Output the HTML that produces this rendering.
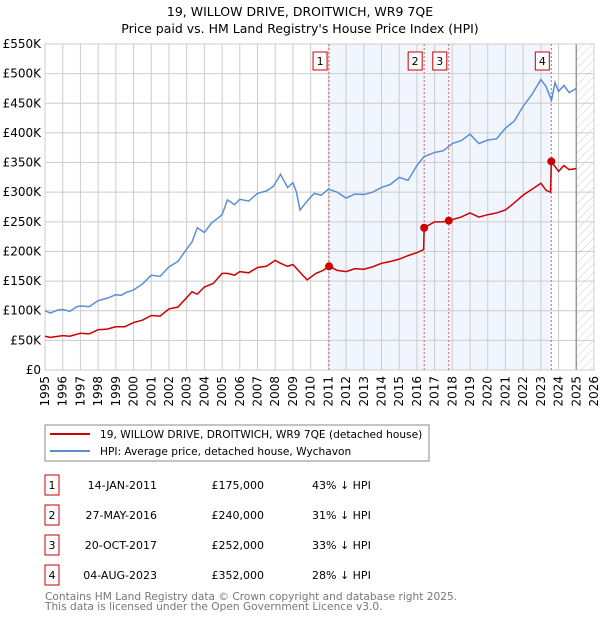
<!DOCTYPE html>
<html><head><meta charset="utf-8"><style>
body{margin:0;background:#fff;font-family:"DejaVu Sans","Liberation Sans",sans-serif;}
svg text{font-family:"DejaVu Sans","Liberation Sans",sans-serif;}
</style></head><body>
<svg id="chart" width="600" height="620" viewBox="0 0 600 620">
<defs><pattern id="hatch" width="6" height="6" patternUnits="userSpaceOnUse" patternTransform="rotate(45)"><line x1="0" y1="0" x2="0" y2="6" stroke="#ccc" stroke-width="1"/></pattern></defs>
<text x="300" y="16" text-anchor="middle" font-size="12.5">19, WILLOW DRIVE, DROITWICH, WR9 7QE</text>
<text x="300" y="33" text-anchor="middle" font-size="12.5">Price paid vs. HM Land Registry's House Price Index (HPI)</text>
<g id="plot"></g>
<g>
<rect x="45" y="425" width="384" height="36" fill="#fff" stroke="#888" stroke-width="1"/>
<line x1="50" y1="434" x2="90" y2="434" stroke="#cc0000" stroke-width="2"/>
<text x="100" y="438" font-size="10.6">19, WILLOW DRIVE, DROITWICH, WR9 7QE (detached house)</text>
<line x1="50" y1="451" x2="90" y2="451" stroke="#5b8fd4" stroke-width="2"/>
<text x="100" y="455" font-size="10.6">HPI: Average price, detached house, Wychavon</text>
</g>
<g id="table" font-size="11"></g>
<text x="45" y="600" font-size="10.6" fill="#777">Contains HM Land Registry data © Crown copyright and database right 2025.</text>
<text x="45" y="610" font-size="10.6" fill="#777">This data is licensed under the Open Government Licence v3.0.</text>
</svg>
<script>
const yTicks=[0,50,100,150,200,250,300,350,400,450,500,550];
const yearTicks=[1995,1996,1997,1998,1999,2000,2001,2002,2003,2004,2005,2006,2007,2008,2009,2010,2011,2012,2013,2014,2015,2016,2017,2018,2019,2020,2021,2022,2023,2024,2025,2026];
const hpiT=[1995,1995.3,1995.7,1996,1996.4,1996.8,1997,1997.5,1998,1998.5,1999,1999.3,1999.6,2000,2000.5,2001,2001.5,2002,2002.5,2003,2003.3,2003.6,2004,2004.4,2004.8,2005,2005.3,2005.7,2006,2006.5,2007,2007.5,2007.9,2008.3,2008.7,2009,2009.2,2009.4,2009.8,2010.2,2010.6,2011,2011.5,2012,2012.5,2013,2013.5,2014,2014.5,2015,2015.5,2016,2016.4,2017,2017.5,2018,2018.5,2019,2019.5,2020,2020.5,2021,2021.5,2022,2022.5,2023,2023.3,2023.6,2023.8,2024,2024.3,2024.6,2025];
const hpiV=[100,96,101,102,99,107,108,107,117,121,127,126,131,135,145,160,158,174,183,204,216,240,232,248,257,262,287,279,288,285,298,302,310,330,308,316,300,270,285,298,295,305,300,290,297,296,300,308,313,325,320,345,360,367,370,382,387,398,382,388,390,408,420,445,465,490,478,455,485,470,480,468,475];
const ppT=[1995,1995.3,1996,1996.4,1997,1997.5,1998,1998.5,1999,1999.5,2000,2000.5,2001,2001.5,2002,2002.5,2003,2003.3,2003.6,2004,2004.5,2005,2005.3,2005.7,2006,2006.5,2007,2007.5,2008,2008.3,2008.7,2009,2009.4,2009.8,2010.3,2010.7,2011.04,2011.5,2012,2012.5,2013,2013.5,2014,2014.5,2015,2015.5,2016,2016.38,2016.41,2017,2017.5,2017.8,2018.5,2019,2019.5,2020,2020.5,2021,2021.5,2022,2022.5,2023,2023.3,2023.55,2023.59,2024,2024.3,2024.6,2025];
const ppV=[57,55,58,57,62,61,68,69,73,73,80,84,92,91,103,106,122,132,128,140,146,163,163,160,166,164,173,175,185,180,175,178,165,152,163,168,175,168,166,171,170,174,180,183,187,193,198,203,240,250,250,252,258,265,258,262,265,270,282,295,305,315,303,300,352,335,345,338,340];
const sales=[{n:"1",t:2011.04,v:175,date:"14-JAN-2011",price:"£175,000",hpi:"43% ↓ HPI"},{n:"2",t:2016.41,v:240,date:"27-MAY-2016",price:"£240,000",hpi:"31% ↓ HPI"},{n:"3",t:2017.8,v:252,date:"20-OCT-2017",price:"£252,000",hpi:"33% ↓ HPI"},{n:"4",t:2023.59,v:352,date:"04-AUG-2023",price:"£352,000",hpi:"28% ↓ HPI"}];
const X0=45,X1=594,Y0=370,Y1=44;
const x=t=>X0+(t-1995)*(X1-X0)/31;
const y=v=>Y0-v*(Y0-Y1)/550;
const NS="http://www.w3.org/2000/svg";
const plot=document.getElementById('plot');
function mk(tag,at,parent){const e=document.createElementNS(NS,tag);for(const k in at)e.setAttribute(k,at[k]);(parent||plot).appendChild(e);return e;}
let e;
e=mk('rect',{x:x(sales[0].t),y:Y1,width:x(sales[3].t)-x(sales[0].t),height:Y0-Y1,fill:'#eef3fc',opacity:0.8});


e=mk('rect',{x:x(2025),y:Y1,width:X1-x(2025),height:Y0-Y1,fill:'url(#hatch)'});


yTicks.forEach(v=>{
 e=mk('line',{x1:X0,x2:X1,y1:y(v),y2:y(v),stroke:'#ccc','stroke-width':1});
 
 
 e=mk('text',{x:X0-4,y:y(v)+4,'text-anchor':'end','font-size':12});
 e.textContent=v===0?'£0':'£'+v+'K';
 
 
});
yearTicks.forEach(t=>{
 e=mk('line',{x1:x(t),x2:x(t),y1:Y1,y2:Y0,stroke:'#ccc','stroke-width':1});
 
 
 e=mk('text',{x:0,y:0,'text-anchor':'end','font-size':12,transform:`translate(${x(t)+4},${Y0+6}) rotate(-90)`});
 e.textContent=t;
 
 
});
e=mk('line',{x1:x(2025),x2:x(2025),y1:Y1,y2:Y0,stroke:'#999','stroke-width':1.5});


e=mk('rect',{x:X0,y:Y1,width:X1-X0,height:Y0-Y1,fill:'none',stroke:'#ccc'});


sales.forEach(s=>{
 e=mk('line',{x1:x(s.t),x2:x(s.t),y1:Y1,y2:Y0,stroke:'#e06060','stroke-width':1,'stroke-dasharray':'2,2'});
 
 
});
e=mk('polyline',{points:hpiT.map((t,i)=>x(t)+','+y(hpiV[i])).join(' '),fill:'none',stroke:'#5b8fd4','stroke-width':1.5});


e=mk('polyline',{points:ppT.map((t,i)=>x(t)+','+y(ppV[i])).join(' '),fill:'none',stroke:'#cc0000','stroke-width':1.5});


sales.forEach(s=>{
 e=mk('circle',{cx:x(s.t),cy:y(s.v),r:4,fill:'#cc0000'});
 
 
 const bx=x(s.t)-16;
 e=mk('rect',{x:bx,y:52,width:14,height:18,fill:'#fff',stroke:'#cc0000'});
 
 
 e=mk('text',{x:bx+7,y:65,'text-anchor':'middle','font-size':11});
 e.textContent=s.n;
 
 
});
const tbl=document.getElementById('table');
sales.forEach((s,i)=>{
 const cy=485+i*30;
 e=mk('rect',{x:45,y:cy-10,width:14,height:20,fill:'#fff',stroke:'#cc0000'},tbl);
 
 
 e=mk('text',{x:52,y:cy+4,'text-anchor':'middle'},tbl);e.textContent=s.n;
 
 
 e=mk('text',{x:157,y:cy+4,'text-anchor':'end'},tbl);e.textContent=s.date;
 
 
 e=mk('text',{x:264,y:cy+4,'text-anchor':'end'},tbl);e.textContent=s.price;
 
 
 e=mk('text',{x:312,y:cy+4},tbl);e.textContent=s.hpi;
 
 
});
</script>
</body></html>
